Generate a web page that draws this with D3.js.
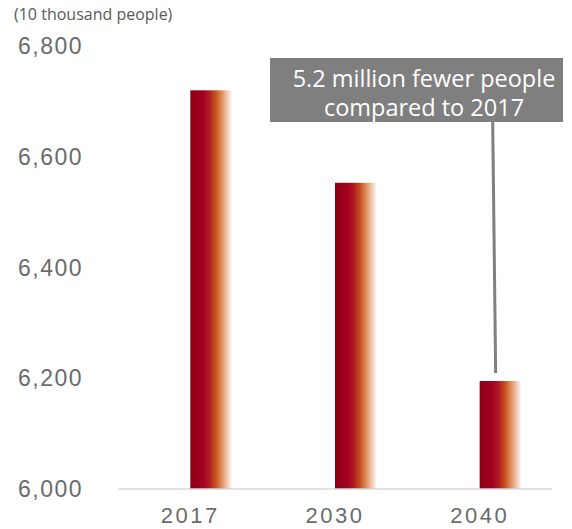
<!DOCTYPE html>
<html>
<head>
<meta charset="utf-8">
<script src="https://cdn.jsdelivr.net/npm/d3@7"></script>
<style>
  body { margin: 0; background: #fff; }
  text { font-family: "Open Sans", "Noto Sans", sans-serif; }
  .num { font-family: "Liberation Sans", Arial, sans-serif; }
</style>
</head>
<body>
<div id="chart"></div>
<script>
// chart data
const years = ['2017', '2030', '2040'];
const workforce = [6720, 6553, 6195];
const yTicks = [6000, 6200, 6400, 6600, 6800];
const unitLabel = '(10 thousand people)';
const noteLines = ['5.2 million fewer people', 'compared to 2017'];

const width = 572, height = 529;
const plot = { left: 118, right: 552, top: 46, bottom: 489 };

const svg = d3.select('#chart').append('svg')
    .attr('width', width)
    .attr('height', height);

// gradient for bars, dark red -> orange -> white
const grad = svg.append('defs').append('linearGradient')
    .attr('id', 'barGrad')
    .attr('x1', '0%').attr('x2', '100%')
    .attr('y1', '0%').attr('y2', '0%');
[
    [0, '#8a0014'], [0.3, '#a3001f'], [0.45, '#b01a22'],
    [0.6, '#c5521c'], [0.75, '#e09060'], [1, '#ffffff']
].forEach(s => grad.append('stop').attr('offset', s[0]).attr('stop-color', s[1]));

const x = d3.scaleBand()
    .domain(years)
    .range([plot.left, plot.right]);

const y = d3.scaleLinear()
    .domain([6000, 6800])
    .range([plot.bottom, plot.top]);

// y labels
svg.append('g')
    .selectAll('text')
    .data(yTicks)
    .join('text')
    .attr('class', 'num')
    .attr('x', 18)
    .attr('y', d => y(d) + 8)
    .attr('font-size', 23)
    .attr('letter-spacing', 1.5)
    .attr('fill', '#6b6b6b')
    .text(d => d3.format(',')(d));

svg.append('text')
    .attr('x', 14)
    .attr('y', 20)
    .attr('font-size', 16)
    .attr('fill', '#595959')
    .text(unitLabel);

// bars: left edge at band center
const barW = 42;
svg.append('g')
    .selectAll('rect')
    .data(workforce)
    .join('rect')
    .attr('x', (d, i) => x(years[i]) + x.bandwidth() / 2)
    .attr('y', d => y(d))
    .attr('width', barW)
    .attr('height', d => y(6000) - y(d))
    .attr('fill', 'url(#barGrad)');

// baseline
svg.append('line')
    .attr('x1', plot.left).attr('x2', plot.right)
    .attr('y1', y(6000)).attr('y2', y(6000))
    .attr('stroke', '#d9d9d9')
    .attr('stroke-width', 1.5);

// x labels
svg.append('g')
    .selectAll('text')
    .data(years)
    .join('text')
    .attr('class', 'num')
    .attr('x', d => x(d) + x.bandwidth() / 2)
    .attr('y', 523)
    .attr('text-anchor', 'middle')
    .attr('font-size', 22)
    .attr('letter-spacing', 2.5)
    .attr('fill', '#6b6b6b')
    .text(d => d);

// annotation callout
const last = workforce.length - 1;
const tipX = x(years[last]) + x.bandwidth() / 2 + 16;
svg.append('line')
    .attr('x1', tipX - 3).attr('y1', 120)
    .attr('x2', tipX).attr('y2', y(workforce[last]) - 8)
    .attr('stroke', '#808080')
    .attr('stroke-width', 3);

svg.append('rect')
    .attr('x', 270).attr('y', 58)
    .attr('width', 293).attr('height', 64)
    .attr('fill', '#7f7f7f');

svg.append('g')
    .selectAll('text')
    .data(noteLines)
    .join('text')
    .attr('x', 424)
    .attr('y', (d, i) => 87 + i * 29)
    .attr('text-anchor', 'middle')
    .attr('font-size', 23.5)
    .attr('fill', '#fff')
    .text(d => d);
</script>
</body>
</html>
